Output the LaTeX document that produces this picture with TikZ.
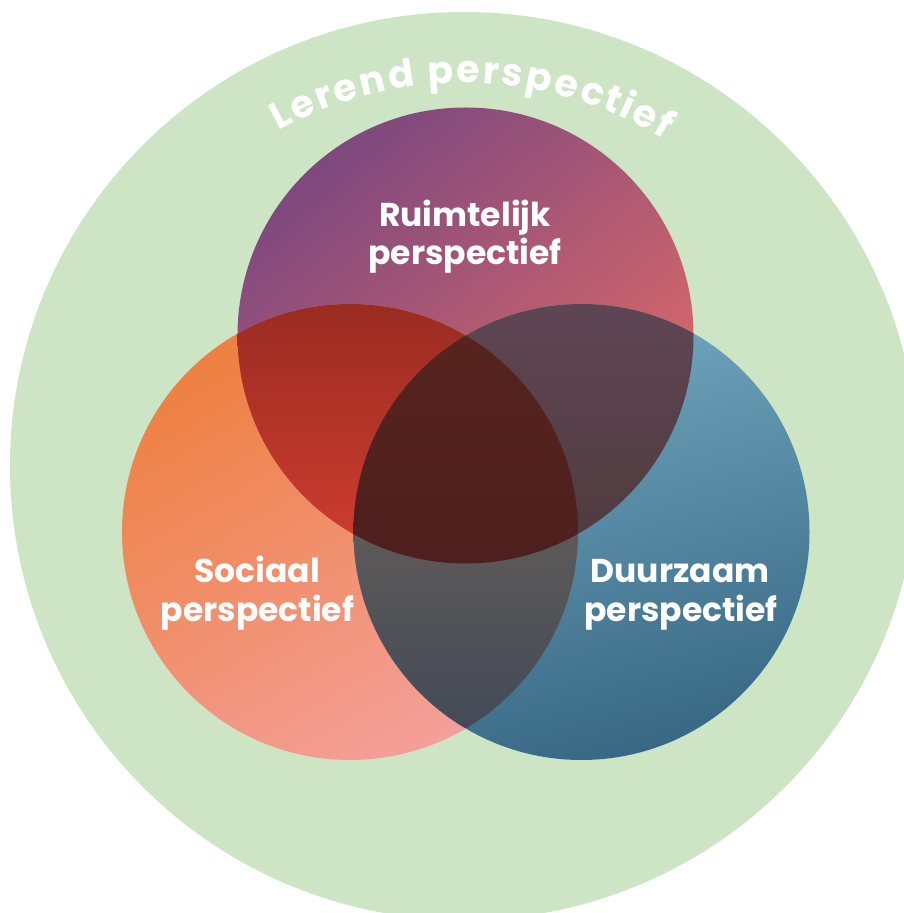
\documentclass[tikz,border=0pt]{standalone}
\usepackage{fontspec}
\setmainfont{Poppins}
\usetikzlibrary{decorations.text}
\definecolor{lgreen}{HTML}{CDE4C5}
\definecolor{topA}{HTML}{7E487F}
\definecolor{topB}{HTML}{E36C66}
\definecolor{leftA}{HTML}{EE8040}
\definecolor{leftB}{HTML}{F49F9A}
\definecolor{rightA}{HTML}{74AAC2}
\definecolor{rightB}{HTML}{386884}
\definecolor{tlA}{HTML}{9A2C22}
\definecolor{tlB}{HTML}{D23D30}
\definecolor{trA}{HTML}{5E4554}
\definecolor{trB}{HTML}{4E3B3C}
\definecolor{lrA}{HTML}{5E5A58}
\definecolor{lrB}{HTML}{444A58}
\definecolor{ctA}{HTML}{57241F}
\definecolor{ctB}{HTML}{4D1F1E}
\begin{document}
\begin{tikzpicture}[x=1pt,y=1pt,
  lbl/.style={text=white, font=\fontsize{33}{33}\selectfont\bfseries, inner sep=0pt, anchor=base}]
\useasboundingbox (0,0) rectangle (904,913);
\clip (0,0) rectangle (904,913);
\coordinate (G) at (464,447);
\coordinate (T) at (465.5,577.5);
\coordinate (L) at (350,381);
\coordinate (R) at (581.5,381);
\fill[lgreen] (G) circle (454);
% base circles
\shade[top color=topA, bottom color=topB, shading angle=40] (T) circle (228);
\shade[top color=leftA, bottom color=leftB, shading angle=30] (L) circle (228);
\shade[top color=rightA, bottom color=rightB, shading angle=15] (R) circle (228);
% pairwise overlaps
\begin{scope}
  \clip (T) circle (228);
  \clip (L) circle (228);
  \shade[top color=tlA, bottom color=tlB] (122,348) rectangle (578,609);
\end{scope}
\begin{scope}
  \clip (T) circle (228);
  \clip (R) circle (228);
  \shade[top color=trA, bottom color=trB] (353,348) rectangle (694,609);
\end{scope}
\begin{scope}
  \clip (L) circle (228);
  \clip (R) circle (228);
  \shade[top color=lrA, bottom color=lrB] (353,185) rectangle (578,390);
\end{scope}
% triple overlap
\begin{scope}
  \clip (T) circle (228);
  \clip (L) circle (228);
  \clip (R) circle (228);
  \shade[top color=ctA, bottom color=ctB] (353,348) rectangle (578,580);
\end{scope}
% labels
\node[lbl] (ruim1) at (465,686) {Ruimtelijk};
\node[lbl] (ruim2) at (465,648) {perspectief};
\node[lbl] (soc1) at (257,330) {Sociaal};
\node[lbl] (soc2) at (257.5,291) {perspectief};
\node[lbl] (duur1) at (680,330) {Duurzaam};
\node[lbl] (duur2) at (681,291) {perspectief};
% curved outer label
\path[decorate, decoration={text effects along path, text={Lerend perspectief},
  text effects/.cd, text along path, fit text to path,
  characters={text=white, font=\fontsize{38}{38}\selectfont\bfseries, inner sep=0pt}}]
  (G) ++(119:383) arc[start angle=119, end angle=58.5, radius=383];
\end{tikzpicture}
\end{document}
